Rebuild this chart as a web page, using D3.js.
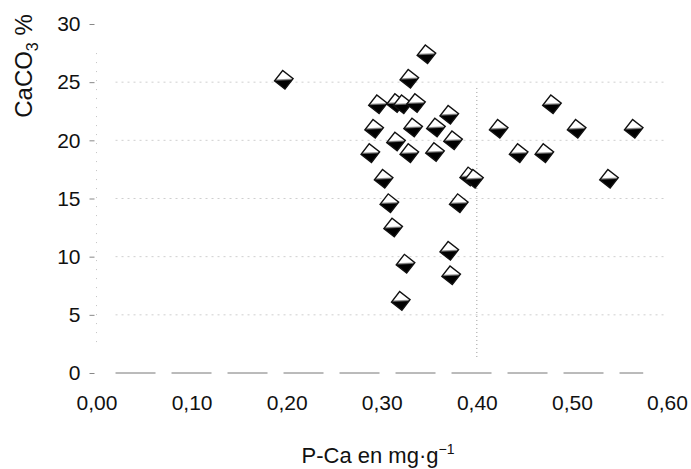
<!DOCTYPE html>
<html>
<head>
<meta charset="utf-8">
<script src="https://cdn.jsdelivr.net/npm/d3@7"></script>
<style>
  body { margin: 0; background: #fff; }
  text { font-family: "Liberation Sans", Arial, sans-serif; fill: #111; }
</style>
</head>
<body>
<div id="chart"></div>
<script>
// P-Ca (mg/g) vs CaCO3 (%)
const pCa = [0.197, 0.347, 0.329, 0.296, 0.315, 0.322, 0.336, 0.371, 0.479,
             0.292, 0.333, 0.357, 0.423, 0.505, 0.565, 0.315, 0.375,
             0.288, 0.329, 0.356, 0.444, 0.471, 0.302, 0.392, 0.397, 0.539,
             0.308, 0.381, 0.312, 0.371, 0.325, 0.373, 0.320];
const caco3 = [25.2, 27.4, 25.3, 23.1, 23.2, 23.1, 23.2, 22.2, 23.1,
               21.0, 21.1, 21.1, 21.0, 21.0, 21.0, 19.9, 20.0,
               18.9, 18.9, 19.0, 18.9, 18.9, 16.7, 16.9, 16.7, 16.7,
               14.6, 14.6, 12.5, 10.5, 9.4, 8.4, 6.2];
const xTicks = [0, 0.1, 0.2, 0.3, 0.4, 0.5, 0.6];
const yTicks = [0, 5, 10, 15, 20, 25, 30];

const width = 691, height = 469;
const points = pCa.map((p, i) => ({ x: p, y: caco3[i] }));

const x = d3.scaleLinear().domain([0, 0.6]).range([96.5, 667]);
const y = d3.scaleLinear().domain([0, 30]).range([373, 24]);

const fr = d3.formatLocale({ decimal: ",", thousands: ".", grouping: [3], currency: ["", "€"] });
const fmt = fr.format(".2f");

const svg = d3.select("#chart").append("svg")
  .attr("width", width)
  .attr("height", height);

// marker shading: white upper part, black lower-right part
const grad = svg.append("defs").append("linearGradient")
  .attr("id", "shade")
  .attr("x1", 0).attr("y1", 0)
  .attr("x2", 0.85).attr("y2", 1);
grad.append("stop").attr("offset", "0%").attr("stop-color", "#fff");
grad.append("stop").attr("offset", "46%").attr("stop-color", "#fff");
grad.append("stop").attr("offset", "60%").attr("stop-color", "#000");
grad.append("stop").attr("offset", "100%").attr("stop-color", "#000");

// faint gridlines
svg.append("g")
  .selectAll("line")
  .data(yTicks.filter(d => d > 0 && d < 30))
  .enter()
  .append("line")
  .attr("x1", x(0.02)).attr("x2", x(0.6))
  .attr("y1", d => y(d)).attr("y2", d => y(d))
  .attr("stroke", "#cfcfcf")
  .attr("stroke-width", 1)
  .attr("stroke-dasharray", "2,4");

svg.append("line")
  .attr("x1", x(0.02)).attr("x2", x(0.575))
  .attr("y1", y(0)).attr("y2", y(0))
  .attr("stroke", "#777")
  .attr("stroke-width", 1)
  .attr("stroke-dasharray", "40,16");

svg.append("line")
  .attr("x1", x(0)).attr("x2", x(0))
  .attr("y1", y(27.5)).attr("y2", y(2))
  .attr("stroke", "#c4c4c4")
  .attr("stroke-dasharray", "1,8");

svg.append("line")
  .attr("x1", x(0.4)).attr("x2", x(0.4))
  .attr("y1", y(24.5)).attr("y2", y(1.2))
  .attr("stroke", "#9a9a9a")
  .attr("stroke-dasharray", "1,3");

// y axis
const yAxis = svg.append("g")
  .attr("transform", `translate(${x(0) - 2},0)`)
  .call(d3.axisLeft(y).tickValues(yTicks).tickSize(5).tickPadding(9).tickFormat(d3.format("d")));
yAxis.select(".domain").remove();
yAxis.selectAll(".tick line").attr("stroke", "#888");
yAxis.selectAll(".tick text")
  .style("font-size", "21px")
  .style("font-family", "Liberation Sans, Arial, sans-serif")
  .attr("fill", "#111");

// x axis
const xAxis = svg.append("g")
  .attr("transform", `translate(0,${y(0) + 10})`)
  .call(d3.axisBottom(x).tickValues(xTicks).tickSize(0).tickPadding(12).tickFormat(fmt));
xAxis.select(".domain").remove();
xAxis.selectAll(".tick text")
  .style("font-size", "21px")
  .style("font-family", "Liberation Sans, Arial, sans-serif")
  .attr("fill", "#111");

// markers
svg.append("g")
  .selectAll("path")
  .data(points)
  .enter()
  .append("path")
  .attr("d", d3.symbol(d3.symbolSquare, 175))
  .attr("transform", d => `translate(${x(d.x)},${y(d.y)}) rotate(38)`)
  .attr("fill", "url(#shade)")
  .attr("stroke", "#111")
  .attr("stroke-width", 1.4);

// axis titles
const yTitle = svg.append("text")
  .attr("transform", "translate(32,66) rotate(-90)")
  .attr("text-anchor", "middle")
  .style("font-size", "24px");
yTitle.append("tspan").text("CaCO");
yTitle.append("tspan").attr("dy", 6).style("font-size", "16px").text("3");
yTitle.append("tspan").attr("dy", -6).text(" %");

const xTitle = svg.append("text")
  .attr("x", 378)
  .attr("y", 463)
  .attr("text-anchor", "middle")
  .style("font-size", "22px");
xTitle.append("tspan").text("P-Ca en mg·g");
xTitle.append("tspan").attr("dy", -9).style("font-size", "14px").text("−1");
</script>
</body>
</html>
